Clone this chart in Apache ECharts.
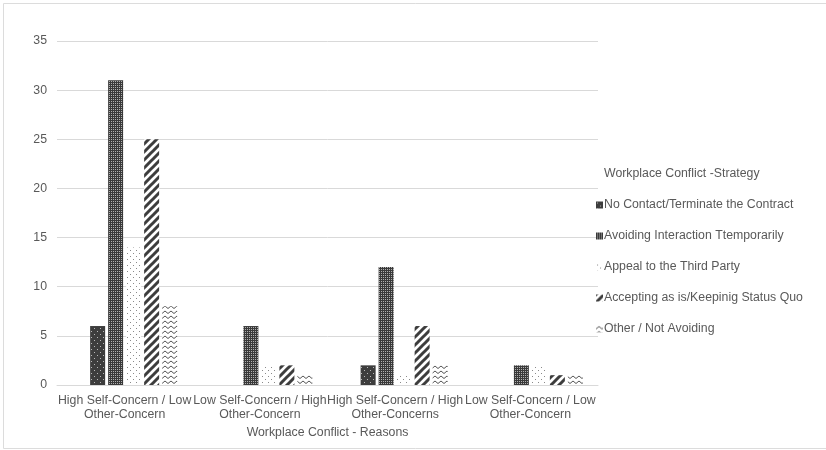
<!DOCTYPE html>
<html>
<head>
<meta charset="utf-8">
<script src="https://cdn.jsdelivr.net/npm/echarts@6/dist/echarts.min.js"></script>
<style>
  html, body { margin: 0; padding: 0; background: #ffffff; }
  #chart { width: 826px; height: 450px; }
</style>
</head>
<body>
<div id="chart"></div>
<script>
// Reasons for workplace conflict (x categories)
const categories = [
  'High Self-Concern / Low\nOther-Concern',
  'Low Self-Concern / High\nOther-Concern',
  'High Self-Concern / High\nOther-Concerns',
  'Low Self-Concern / Low\nOther-Concern'
];

// Strategy series (the first one is an empty heading entry of the legend)
const legendHeading = 'Workplace Conflict -Strategy';
const headingValues = [null, null, null, null];
const strategyNames = [
  'No Contact/Terminate the Contract',
  'Avoiding Interaction Ttemporarily',
  'Appeal to the Third Party',
  'Accepting as is/Keepinig Status Quo',
  'Other / Not Avoiding'
];
const noContact = [6, 0, 2, 0];
const avoidingInteraction = [31, 6, 12, 2];
const appealThirdParty = [14, 2, 1, 2];
const acceptingStatusQuo = [25, 2, 6, 1];
const otherNotAvoiding = [8, 1, 2, 1];

// Value axis
const yMin = 0;
const yMax = 35;
const yStep = 5;

const xAxisTitle = 'Workplace Conflict - Reasons';

// --- monochrome fill patterns -------------------------------------------
function tile(w, h, draw) {
  const c = document.createElement('canvas');
  c.width = w; c.height = h;
  const ctx = c.getContext('2d');
  draw(ctx);
  return { image: c, repeat: 'repeat' };
}

const patDarkDots = tile(6, 6, ctx => {
  ctx.fillStyle = '#3d3d3d'; ctx.fillRect(0, 0, 6, 6);
  ctx.fillStyle = '#b8b8b8';
  ctx.fillRect(1, 1, 1, 1);
  ctx.fillRect(4, 4, 1, 1);
});

const patDenseGrid = tile(2, 2, ctx => {
  ctx.fillStyle = '#3a3a3a'; ctx.fillRect(0, 0, 2, 2);
  ctx.fillStyle = '#b0b0b0';
  ctx.fillRect(1, 1, 1, 1);
});

const patSparseDots = tile(6, 6, ctx => {
  ctx.fillStyle = '#ffffff'; ctx.fillRect(0, 0, 6, 6);
  ctx.fillStyle = '#8a8a8a';
  ctx.fillRect(1, 1, 1, 1);
  ctx.fillRect(4, 4, 1, 1);
});

const patDiagonal = tile(8, 8, ctx => {
  ctx.fillStyle = '#ffffff'; ctx.fillRect(0, 0, 8, 8);
  ctx.strokeStyle = '#3d3d3d'; ctx.lineWidth = 3;
  ctx.beginPath();
  ctx.moveTo(-2, 10); ctx.lineTo(10, -2);
  ctx.moveTo(-6, 6); ctx.lineTo(6, -6);
  ctx.moveTo(2, 14); ctx.lineTo(14, 2);
  ctx.stroke();
});

const patZigzag = tile(6, 5, ctx => {
  ctx.fillStyle = '#ffffff'; ctx.fillRect(0, 0, 6, 5);
  ctx.strokeStyle = '#555555'; ctx.lineWidth = 1;
  ctx.beginPath();
  ctx.moveTo(0, 3.5); ctx.lineTo(3, 1); ctx.lineTo(6, 3.5);
  ctx.stroke();
});

const fills = [patDarkDots, patDenseGrid, patSparseDots, patDiagonal, patZigzag];
const values = [noContact, avoidingInteraction, appealThirdParty, acceptingStatusQuo, otherNotAvoiding];

const FONT = "'Liberation Sans', Arial, sans-serif";
const TEXT = '#595959';
const GRID = '#d9d9d9';
const FS = 12.3;

const barCommon = { type: 'bar', barWidth: 15, barGap: '20%' };

const series = [
  Object.assign({}, barCommon, {
    name: legendHeading,
    data: headingValues,
    itemStyle: { color: 'rgba(0,0,0,0)' }
  })
].concat(strategyNames.map((name, i) => Object.assign({}, barCommon, {
  name: name,
  data: values[i],
  itemStyle: { color: fills[i] }
})));

const chart = echarts.init(document.getElementById('chart'), null, { renderer: 'canvas' });
chart.setOption({
  animation: false,
  backgroundColor: '#ffffff',
  textStyle: { fontFamily: FONT },
  grid: { left: 57, right: 228, top: 41, bottom: 65 },
  legend: {
    orient: 'vertical',
    left: 591,
    top: 163,
    itemWidth: 7,
    itemHeight: 7,
    itemGap: 19,
    icon: 'rect',
    selectedMode: false,
    textStyle: { color: TEXT, fontSize: FS, fontFamily: FONT, padding: [0, 0, 0, -4] },
    data: [legendHeading].concat(strategyNames)
  },
  xAxis: {
    type: 'category',
    data: categories,
    axisLine: { show: true, lineStyle: { color: GRID, width: 1 } },
    axisTick: { show: false },
    axisLabel: {
      interval: 0, margin: 9, lineHeight: 14,
      color: TEXT, fontSize: FS, fontFamily: FONT
    },
    name: xAxisTitle,
    nameLocation: 'middle',
    nameGap: 41,
    nameTextStyle: { color: TEXT, fontSize: FS, fontFamily: FONT }
  },
  yAxis: {
    type: 'value',
    min: yMin, max: yMax, interval: yStep,
    axisLine: { show: false },
    axisTick: { show: false },
    splitLine: { lineStyle: { color: GRID, width: 1 } },
    axisLabel: { margin: 10, color: TEXT, fontSize: FS, fontFamily: FONT }
  },
  graphic: [{
    type: 'rect',
    silent: true,
    shape: { x: 3.5, y: 3.5, width: 830, height: 445 },
    style: { fill: 'none', stroke: '#dcdcdc', lineWidth: 1 }
  }],
  series: series
});
</script>
</body>
</html>
